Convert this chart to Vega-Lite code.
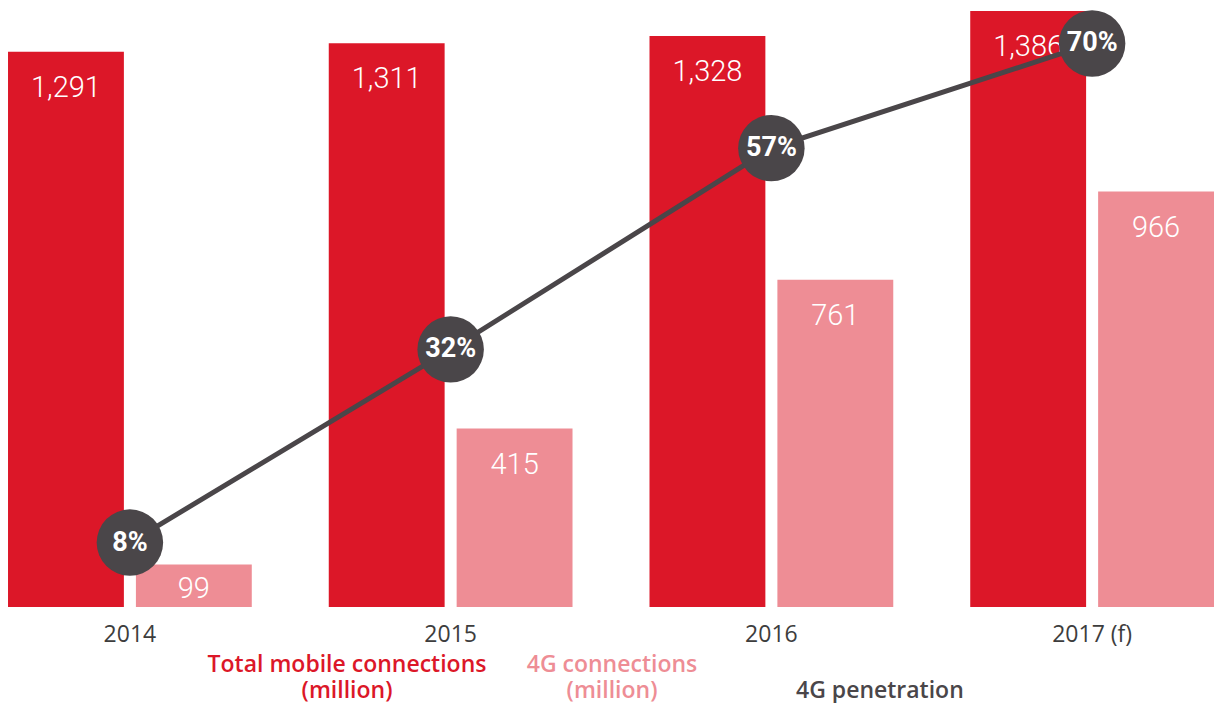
{
  "$schema": "https://vega.github.io/schema/vega-lite/v6.json",
  "width": 1214,
  "height": 607,
  "padding": 0,
  "background": "white",
  "config": {"view": {"stroke": null}, "font": "Open Sans"},
  "datasets": {
    "bars": [
      {"year": "2014", "series": "Total mobile connections (million)", "value": 1291},
      {"year": "2014", "series": "4G connections (million)", "value": 99},
      {"year": "2015", "series": "Total mobile connections (million)", "value": 1311},
      {"year": "2015", "series": "4G connections (million)", "value": 415},
      {"year": "2016", "series": "Total mobile connections (million)", "value": 1328},
      {"year": "2016", "series": "4G connections (million)", "value": 761},
      {"year": "2017 (f)", "series": "Total mobile connections (million)", "value": 1386},
      {"year": "2017 (f)", "series": "4G connections (million)", "value": 966}
    ],
    "pen": [
      {"year": "2014", "pct": 0.08},
      {"year": "2015", "pct": 0.32},
      {"year": "2016", "pct": 0.57},
      {"year": "2017 (f)", "pct": 0.70}
    ]
  },
  "encoding": {
    "x": {
      "field": "year",
      "type": "nominal",
      "scale": {"paddingInner": 0.24, "paddingOuter": 0.0125, "align": 1},
      "axis": {"title": null, "domain": false, "ticks": false, "labelAngle": 0, "labelFont": "Open Sans", "labelFontSize": 23, "labelColor": "#3d3d3d", "labelPadding": 16}
    }
  },
  "layer": [
    {
      "data": {"name": "bars"},
      "encoding": {
        "xOffset": {"field": "series", "type": "nominal", "sort": ["Total mobile connections (million)", "4G connections (million)"], "scale": {"paddingInner": 0.094, "paddingOuter": 0}},
        "y": {"field": "value", "type": "quantitative", "scale": {"domain": [0, 1411.6], "nice": false}, "axis": null}
      },
      "layer": [
        {
          "mark": {"type": "bar"},
          "encoding": {
            "color": {
              "field": "series",
              "type": "nominal",
              "scale": {"domain": ["Total mobile connections (million)", "4G connections (million)"], "range": ["#dc1728", "#ee8d95"]},
              "legend": {
                "orient": "none", "legendX": 324, "legendY": 642, "direction": "horizontal", "title": null,
                "symbolType": "circle", "symbolSize": 0, "symbolStrokeWidth": 0, "symbolOpacity": 0,
                "labelOffset": 0, "labelAlign": "center", "labelBaseline": "top",
                "labelFont": "Open Sans", "labelFontWeight": 600, "labelFontSize": 23, "labelLimit": 500,
                "columnPadding": 39, "padding": 0,
                "labelExpr": "split(replace(datum.label, ' (', '|('), '|')",
                "encode": {"labels": {"update": {"fill": {"scale": "color", "field": "value"}, "lineHeight": {"value": 26}}}}
              }
            }
          }
        },
        {
          "mark": {"type": "text", "font": "Roboto", "fontWeight": 300, "fontSize": 29, "fill": "white", "baseline": "alphabetic", "dy": {"expr": "datum.value < 200 ? 34 : 45"}},
          "encoding": {"text": {"field": "value", "type": "quantitative", "format": ","}}
        }
      ]
    },
    {
      "data": {"name": "pen"},
      "encoding": {
        "y": {"field": "pct", "type": "quantitative", "scale": {"domain": [0, 0.754], "nice": false}, "axis": null}
      },
      "layer": [
        {
          "mark": {"type": "line", "strokeWidth": 5},
          "encoding": {
            "stroke": {
              "datum": "4G penetration",
              "type": "nominal",
              "scale": {"range": ["#4a4649"]},
              "legend": {
                "orient": "none", "legendX": 773, "legendY": 668, "direction": "horizontal", "title": null,
                "symbolType": "circle", "symbolSize": 0, "symbolStrokeWidth": 0, "symbolOpacity": 0,
                "labelOffset": 0, "labelAlign": "left", "labelBaseline": "top",
                "labelFont": "Open Sans", "labelFontWeight": 600, "labelFontSize": 23, "labelLimit": 500,
                "labelColor": "#4a4649", "padding": 0
              }
            }
          }
        },
        {
          "mark": {"type": "circle", "size": 4418, "opacity": 1, "color": "#4a4649"},
          "encoding": {}
        },
        {
          "mark": {"type": "text", "font": "Roboto", "fontWeight": "bold", "fontSize": 27, "fill": "white", "baseline": "middle", "align": "center"},
          "encoding": {"text": {"field": "pct", "type": "quantitative", "format": ".0%"}}
        }
      ]
    }
  ],
  "resolve": {"scale": {"y": "independent"}}
}
